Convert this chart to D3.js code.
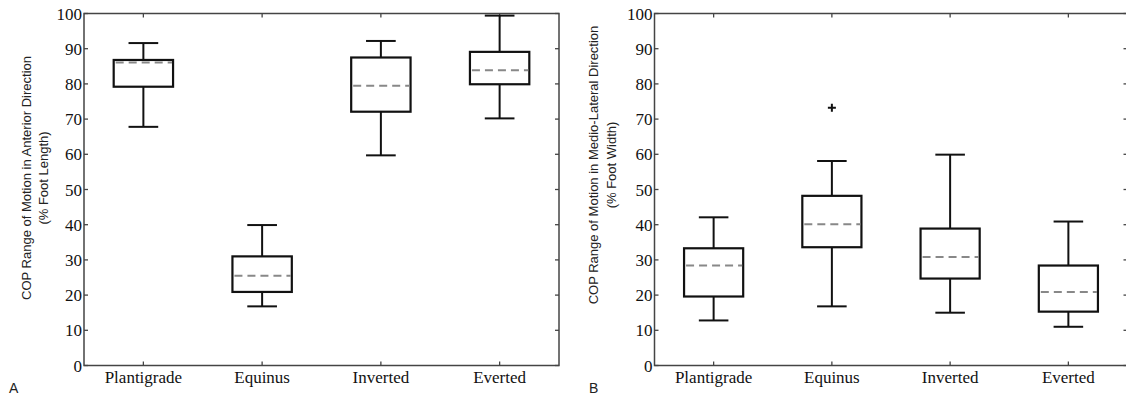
<html>
<head>
<script src="https://d3js.org/d3.v7.min.js"></script>
<style>
  body{margin:0;background:#fff;}
  .tick-label{font-family:"Liberation Serif","Times New Roman",serif;font-size:17px;fill:#111;}
  .cat-label{font-family:"Liberation Serif","Times New Roman",serif;font-size:17px;fill:#111;}
  .ylab{font-family:"Liberation Sans",Arial,sans-serif;font-size:13px;fill:#222;}
  .panel-id{font-family:"Liberation Sans",Arial,sans-serif;font-size:14px;fill:#222;}
</style>
</head>
<body>
<script>
var width = 1126, height = 399;

var categories = ["Plantigrade", "Equinus", "Inverted", "Everted"];
var yTickValues = [0, 10, 20, 30, 40, 50, 60, 70, 80, 90, 100];

// A: anterior direction (% foot length)
var apLow    = [67.8, 16.8, 59.7, 70.2];
var apQ1     = [79.2, 20.9, 72.1, 79.9];
var apMedian = [86.1, 25.5, 79.5, 83.9];
var apQ3     = [86.8, 31.0, 87.5, 89.1];
var apHigh   = [91.6, 39.9, 92.2, 99.4];
var apOutliers = [];

// B: medio-lateral direction (% foot width)
var mlLow    = [12.8, 16.8, 15.0, 11.0];
var mlQ1     = [19.6, 33.6, 24.7, 15.3];
var mlMedian = [28.4, 40.1, 30.8, 20.9];
var mlQ3     = [33.3, 48.2, 38.9, 28.4];
var mlHigh   = [42.1, 58.1, 59.9, 40.9];
var mlOutliers = [["Equinus", 73.2]];

var svg = d3.select("body").append("svg")
            .attr("width", width)
            .attr("height", height);

function drawPanel(p){
    var x = d3.scaleBand().domain(categories).range([p.left, p.right]).padding(0);
    var y = d3.scaleLinear().domain([0, 100]).range([p.bottom, p.top]);
    var bw = x.bandwidth();
    var cx = function(c){ return x(c) + bw / 2; };
    var g = svg.append("g");

    // frame
    g.append("rect")
     .attr("x", p.left).attr("y", p.top)
     .attr("width", p.right - p.left).attr("height", p.bottom - p.top)
     .attr("fill", "none").attr("stroke", "#444").attr("stroke-width", 1.5);

    // y ticks, inward on left and right
    yTickValues.forEach(function(v){
        g.append("line").attr("x1", p.left).attr("x2", p.left + 4)
         .attr("y1", y(v)).attr("y2", y(v)).attr("stroke", "#444").attr("stroke-width", 1.3);
        g.append("line").attr("x1", p.right).attr("x2", p.right - 4)
         .attr("y1", y(v)).attr("y2", y(v)).attr("stroke", "#444").attr("stroke-width", 1.3);
        g.append("text").attr("class", "tick-label")
         .attr("x", p.left - 2).attr("y", y(v) + 6)
         .attr("text-anchor", "end").text(v);
    });

    // x ticks, inward on bottom and top
    categories.forEach(function(c){
        g.append("line").attr("x1", cx(c)).attr("x2", cx(c))
         .attr("y1", p.bottom).attr("y2", p.bottom - 4).attr("stroke", "#444").attr("stroke-width", 1.3);
        g.append("line").attr("x1", cx(c)).attr("x2", cx(c))
         .attr("y1", p.top).attr("y2", p.top + 4).attr("stroke", "#444").attr("stroke-width", 1.3);
        g.append("text").attr("class", "cat-label")
         .attr("x", cx(c)).attr("y", p.bottom + 17)
         .attr("text-anchor", "middle").text(c);
    });

    // boxes
    categories.forEach(function(c, i){
        var xc = cx(c);
        var half = bw * 0.25, cap = bw * 0.125;
        // whiskers
        g.append("line").attr("x1", xc).attr("x2", xc)
         .attr("y1", y(p.q3[i])).attr("y2", y(p.high[i])).attr("stroke", "#111").attr("stroke-width", 2);
        g.append("line").attr("x1", xc).attr("x2", xc)
         .attr("y1", y(p.q1[i])).attr("y2", y(p.low[i])).attr("stroke", "#111").attr("stroke-width", 2);
        g.append("line").attr("x1", xc - cap).attr("x2", xc + cap)
         .attr("y1", y(p.high[i])).attr("y2", y(p.high[i])).attr("stroke", "#111").attr("stroke-width", 2);
        g.append("line").attr("x1", xc - cap).attr("x2", xc + cap)
         .attr("y1", y(p.low[i])).attr("y2", y(p.low[i])).attr("stroke", "#111").attr("stroke-width", 2);
        // box
        g.append("rect").attr("x", xc - half).attr("y", y(p.q3[i]))
         .attr("width", half * 2).attr("height", y(p.q1[i]) - y(p.q3[i]))
         .attr("fill", "none").attr("stroke", "#111").attr("stroke-width", 2.2);
        // median
        g.append("line").attr("x1", xc - half + 2).attr("x2", xc + half - 1)
         .attr("y1", y(p.median[i])).attr("y2", y(p.median[i]))
         .attr("stroke", "#888").attr("stroke-width", 2).attr("stroke-dasharray", "8,5");
    });

    // outliers
    p.outliers.forEach(function(o){
        var xc = cx(o[0]), yy = y(o[1]);
        g.append("path").attr("d", "M" + (xc - 4) + "," + yy + "H" + (xc + 4) + "M" + xc + "," + (yy - 4) + "V" + (yy + 4))
         .attr("stroke", "#111").attr("stroke-width", 2);
    });

    // y label, two lines
    g.append("text").attr("class", "ylab")
     .attr("transform", "translate(" + p.labX1 + "," + p.labY + ") rotate(-90)")
     .attr("text-anchor", "middle").text(p.label1);
    g.append("text").attr("class", "ylab")
     .attr("transform", "translate(" + p.labX2 + "," + p.labY + ") rotate(-90)")
     .attr("text-anchor", "middle").text(p.label2);

    g.append("text").attr("class", "panel-id")
     .attr("x", p.idX).attr("y", 393).text(p.id);
}

drawPanel({
    left: 84, right: 559, top: 13.5, bottom: 365.5,
    low: apLow, q1: apQ1, median: apMedian, q3: apQ3, high: apHigh, outliers: apOutliers,
    label1: "COP Range of Motion in Anterior Direction", label2: "(% Foot Length)",
    labX1: 31, labX2: 48, labY: 178, id: "A", idX: 9
});

drawPanel({
    left: 654.5, right: 1127.5, top: 13.5, bottom: 365.5,
    low: mlLow, q1: mlQ1, median: mlMedian, q3: mlQ3, high: mlHigh, outliers: mlOutliers,
    label1: "COP Range of Motion in Medio-Lateral Direction", label2: "(% Foot Width)",
    labX1: 598, labX2: 616, labY: 165, id: "B", idX: 589
});
</script>
</body>
</html>
